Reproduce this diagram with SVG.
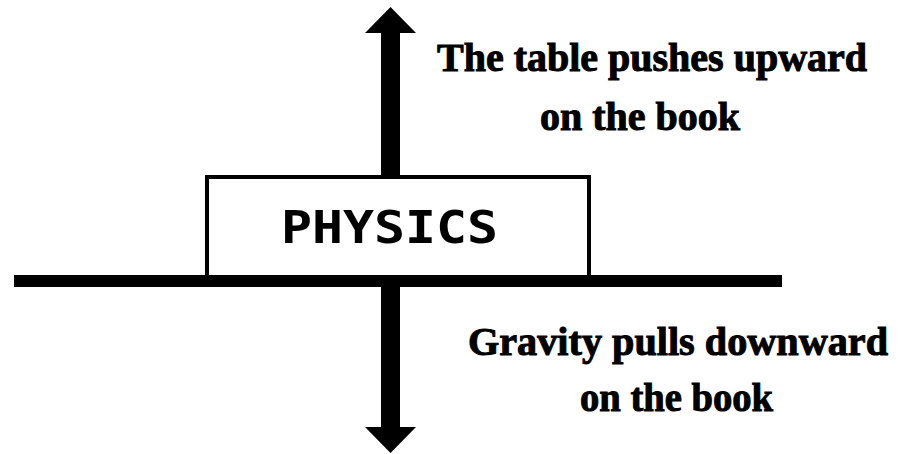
<svg xmlns="http://www.w3.org/2000/svg" width="899" height="454" viewBox="0 0 899 454">
<style>
.lbl{font-family:"Liberation Serif","Times New Roman",serif;font-weight:bold;font-size:40px;fill:#000;stroke:#000;stroke-width:1}
.book{font-family:"DejaVu Sans Mono","Liberation Mono",monospace;font-weight:bold;font-size:45px;fill:#000}
</style>
<rect width="899" height="454" fill="#fff"/>
<g id="connectors">
<rect x="381" y="30" width="19" height="400" fill="#000"/>
<polygon points="390.5,7 365,33 416,33" fill="#000"/>
<polygon points="365,427 416,427 390.5,453" fill="#000"/>
</g>
<g id="book">
<rect x="207" y="177" width="382" height="100" fill="#fff" stroke="#000" stroke-width="4"/>
<text class="book" x="281" y="243" textLength="217" lengthAdjust="spacingAndGlyphs">PHYSICS</text>
</g>
<g id="table">
<rect x="14" y="275" width="768" height="12" fill="#000"/>
</g>
<g id="label-up">
<text class="lbl" x="437" y="71" textLength="430" lengthAdjust="spacingAndGlyphs">The table pushes upward</text>
<text class="lbl" x="540" y="130" textLength="200" lengthAdjust="spacingAndGlyphs">on the book</text>
</g>
<g id="label-down">
<text class="lbl" x="468" y="355" textLength="420" lengthAdjust="spacingAndGlyphs">Gravity pulls downward</text>
<text class="lbl" x="580" y="411" textLength="193" lengthAdjust="spacingAndGlyphs">on the book</text>
</g>
</svg>
